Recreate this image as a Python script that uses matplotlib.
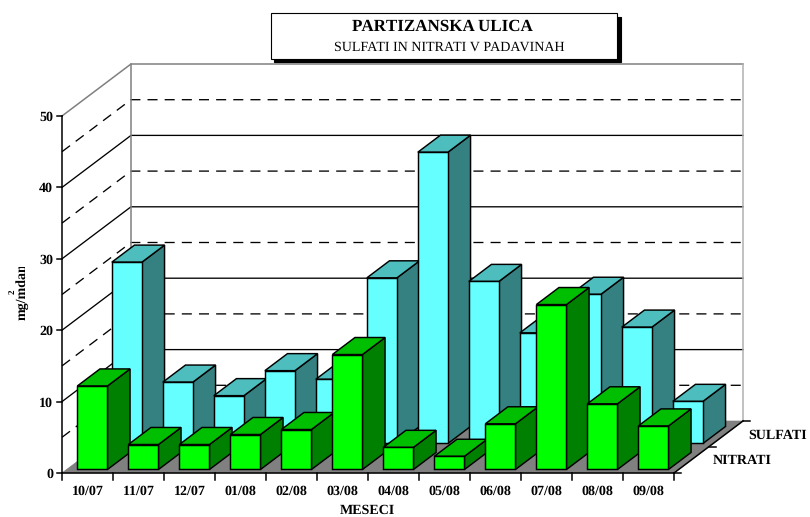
import matplotlib
matplotlib.use('Agg')
import matplotlib.pyplot as plt
from matplotlib.patches import Polygon, Rectangle
import matplotlib.transforms as mtrans

months = ['10/07', '11/07', '12/07', '01/08', '02/08', '03/08',
          '04/08', '05/08', '06/08', '07/08', '08/08', '09/08']
nitrati = [11.7, 3.5, 3.5, 4.9, 5.6, 16.1, 3.1, 1.85, 6.4, 23.1, 9.2, 6.1]
sulfati = [25.4, 8.6, 6.7, 10.2, 9.0, 23.2, 40.8, 22.7, 15.5, 20.9, 16.3, 5.9]
y_ticks = [0, 10, 20, 30, 40, 50]
y_grid = [5, 10, 15, 20, 25, 30, 35, 40, 45]

# pixel size of the plot box in the picture
W, H = 810, 517
X0, Y0 = 62, 473
PX_CAT = 51.0
PX_VAL = 7.14
# oblique shift for one series of depth, in data units
DX = 34.5 / PX_CAT
DY = 26.0 / PX_VAL

plt.rcParams['font.family'] = ['Liberation Serif', 'DejaVu Serif']
plt.rcParams['text.hinting'] = 'no_hinting'
plt.rcParams['text.hinting_factor'] = 1

fig = plt.figure(figsize=(W / 100, H / 100), dpi=100)
ax = fig.add_axes([0, 0, 1, 1])
ax.set_xlim(-X0 / PX_CAT, (W - X0) / PX_CAT)
ax.set_ylim((Y0 - H) / PX_VAL, Y0 / PX_VAL)
ax.axis('off')

n = len(months)


def proj(x, v, d):
    return (x + d * DX, v + d * DY)


def bar3d(i, val, series, front, top, side):
    x0, x1 = i + 0.21, i + 0.80
    d0, d1 = series + 0.135, series + 0.79
    fc = [proj(x0, 0, d0), proj(x1, 0, d0), proj(x1, val, d0), proj(x0, val, d0)]
    tc = [proj(x0, val, d0), proj(x1, val, d0), proj(x1, val, d1), proj(x0, val, d1)]
    sc = [proj(x1, 0, d0), proj(x1, 0, d1), proj(x1, val, d1), proj(x1, val, d0)]
    for pts, col in ((sc, side), (tc, top), (fc, front)):
        ax.add_patch(Polygon(pts, closed=True, facecolor=col, edgecolor='black',
                             linewidth=1.05, joinstyle='miter', zorder=4))


# floor
ax.add_patch(Polygon([proj(0, 0, 0), proj(n, 0, 0), proj(n, 0, 2), proj(0, 0, 2)],
                     closed=True, facecolor='#808080', edgecolor='#808080', lw=0.5, zorder=1))

# grid on the side wall and the back wall
for v in y_grid:
    style = '-' if v % 10 == 0 else (0, (7.6, 5.4))
    xs = [0, proj(0, v, 2)[0], proj(n, v, 2)[0]]
    ys = [v, proj(0, v, 2)[1], proj(n, v, 2)[1]]
    ax.plot(xs, ys, color='black', lw=0.95, ls=style, zorder=2)

# walls outline
bx, by = proj(0, 50, 2)
rx, _ = proj(n, 50, 2)
ax.plot([0, bx, rx], [50, by, by], color='#808080', lw=1.1, zorder=2)
ax.plot([bx, bx], [proj(0, 0, 2)[1], by], color='#808080', lw=1.1, zorder=2)
ax.plot([rx, rx], [proj(0, 0, 2)[1], by], color='#b0b0b0', lw=1.1, zorder=2)

# bars
for i in range(n):
    bar3d(i, sulfati[i], 1, '#66ffff', '#4dbdbd', '#358080')
for i in range(n):
    bar3d(i, nitrati[i], 0, '#00ff00', '#00bf00', '#008000')

# axis lines and ticks
tick_w = 5.5 / PX_CAT
tick_h = 6.5 / PX_VAL
ax.plot([0, 0], [0, 50], color='black', lw=1.1, zorder=5)
ax.plot([0, n], [0, 0], color='black', lw=1.1, zorder=5)
for v in y_ticks:
    ax.plot([-tick_w, 0], [v, v], color='black', lw=1.1, zorder=5)
    ax.text(-9 / PX_CAT, v - 1.5 / PX_VAL, str(v), ha='right', va='center', fontsize=10.2,
            fontweight='bold')
for i in range(n + 1):
    ax.plot([i, i], [0, -tick_h], color='black', lw=1.1, zorder=5)
for i, m in enumerate(months):
    ax.text(i + 0.5, -18.7 / PX_VAL, m, ha='center', va='center', fontsize=10, fontweight='bold')

# depth axis
ax.plot([n, proj(n, 0, 2)[0]], [0, proj(n, 0, 2)[1]], color='black', lw=1.1, zorder=5)
for d in (0, 1, 2):
    px, py = proj(n, 0, d)
    ax.plot([px, px + 7 / PX_CAT], [py, py], color='black', lw=1.1, zorder=5)
ax.text(n + (713 - 674) / PX_CAT, (Y0 - 461) / PX_VAL, 'NITRATI', ha='left', va='center',
        fontsize=10.2, fontweight='bold')
ax.text(n + (748 - 674) / PX_CAT, (Y0 - 435) / PX_VAL, 'SULFATI', ha='left', va='center',
        fontsize=10.2, fontweight='bold')

# axis titles
ax.text((367 - X0) / PX_CAT, (Y0 - 510) / PX_VAL, 'MESECI', ha='center', va='center',
        fontsize=10.2, fontweight='bold')
yl = ax.text((22 - X0) / PX_CAT, (Y0 - 320) / PX_VAL, 'mg/mdan', rotation=90, ha='center',
             va='bottom', fontsize=10, fontweight='bold')
# the original label is cut off at its end
yl.set_clip_box(mtrans.Bbox([[0, H - 330], [60, H - 267]]))
yl.set_clip_on(True)
ax.text((12 - X0) / PX_CAT, (Y0 - 292) / PX_VAL, '2', rotation=90, ha='center', va='center',
        fontsize=6.5, fontweight='bold')

# title box, in figure pixels
fig.add_artist(Rectangle((274 / W, 1 - 61.5 / H), 346.5 / W, 44.5 / H, transform=fig.transFigure,
                         facecolor='black', edgecolor='black', lw=0.8, zorder=6))
fig.add_artist(Rectangle((270.5 / W, 1 - 58.5 / H), 346.5 / W, 45 / H, transform=fig.transFigure,
                         facecolor='white', edgecolor='black', lw=0.8, zorder=7))
fig.text(442 / W, 1 - 27 / H, 'PARTIZANSKA ULICA', ha='center', va='center', fontsize=12,
         fontweight='bold', zorder=8)
fig.text(449.5 / W, 1 - 47.5 / H, 'SULFATI IN NITRATI V PADAVINAH', ha='center', va='center',
         fontsize=9.8, zorder=8)

fig.savefig('out.png', dpi=100)
